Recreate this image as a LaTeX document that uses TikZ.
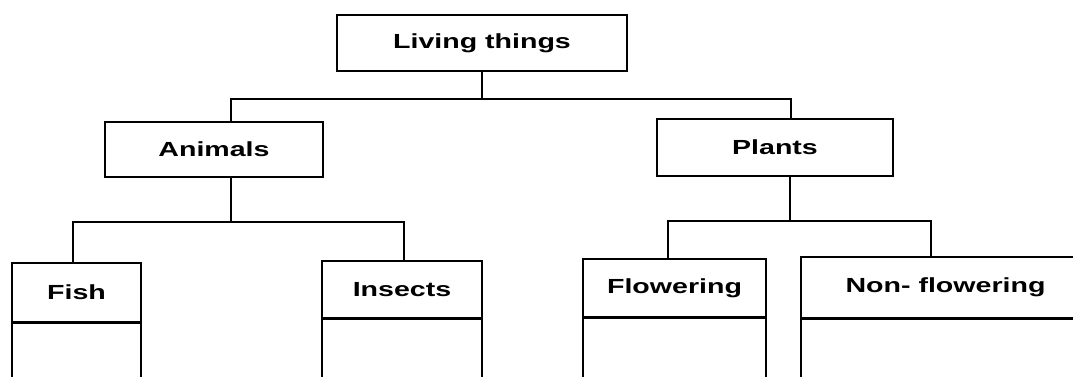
\documentclass[tikz,border=0pt]{standalone}
\usepackage{fontspec}
\newfontfamily\labelfont{Liberation Sans}[FakeStretch=1.4]
\usepackage{tikz}
\usetikzlibrary{shapes, arrows.meta, positioning, arrows}

\begin{document}
\begin{tikzpicture}[x=0.75pt, y=-0.75pt]
    \tikzstyle{box} = [draw, line width=1.2pt, inner sep=0pt,
        font=\labelfont\bfseries\fontsize{15.3}{18}\selectfont]
    \tikzstyle{conn} = [draw, line width=1.2pt, -]
    \useasboundingbox (0,0) rectangle (1073,376);
    \node[box,
        minimum width=217.5pt,
        minimum height=42pt] at (482,43) (living) {Living things};
    \node[box,
        minimum width=163.5pt,
        minimum height=41.25pt] at (214,149.5) (animals) {Animals};
    \node[box,
        minimum width=177pt,
        minimum height=42.75pt] at (775,147.5) (plants) {Plants};
    \node[box,
        minimum width=97pt,
        minimum height=44.25pt] at (76.5,292.5) (fish) {Fish};
    \node[box,
        minimum width=120pt,
        minimum height=42.75pt] at (402,289.5) (insects) {Insects};
    \node[box,
        minimum width=137.25pt,
        minimum height=43.5pt] at (674.5,288) (flowering) {Flowering};
    \node[box,
        minimum width=216.75pt,
        minimum height=45.75pt] at (945.5,287.5) (nonflowering) {Non- flowering};
    % empty lower parts, cut off by the page edge
    \node[box, anchor=north,
        minimum width=97pt, minimum height=60pt] at (fish.south) (fishbody) {};
    \node[box, anchor=north,
        minimum width=120pt, minimum height=60pt] at (insects.south) (insectsbody) {};
    \node[box, anchor=north,
        minimum width=137.25pt, minimum height=60pt] at (flowering.south) (floweringbody) {};
    \node[box, anchor=north,
        minimum width=216.75pt, minimum height=60pt] at (nonflowering.south) (nonfloweringbody) {};
    \coordinate (topbar) at (482,99);
    \coordinate (animalbar) at (231,222);
    \coordinate (plantbar) at (790,221);
    \path[conn] (living) -- (topbar);
    \path[conn] (topbar) -| ([xshift=12.75pt]animals.north);
    \path[conn] (topbar) -| ([xshift=12pt]plants.north);
    \path[conn] ([xshift=12.75pt]animals.south) -- (animalbar);
    \path[conn] (animalbar) -| ([xshift=-2.6pt]fish.north);
    \path[conn] (animalbar) -| ([xshift=1.5pt]insects.north);
    \path[conn] ([xshift=11.25pt]plants.south) -- (plantbar);
    \path[conn] (plantbar) -| ([xshift=-4.9pt]flowering.north);
    \path[conn] (plantbar) -| ([xshift=-10.9pt]nonflowering.north);
\end{tikzpicture}
\end{document}
